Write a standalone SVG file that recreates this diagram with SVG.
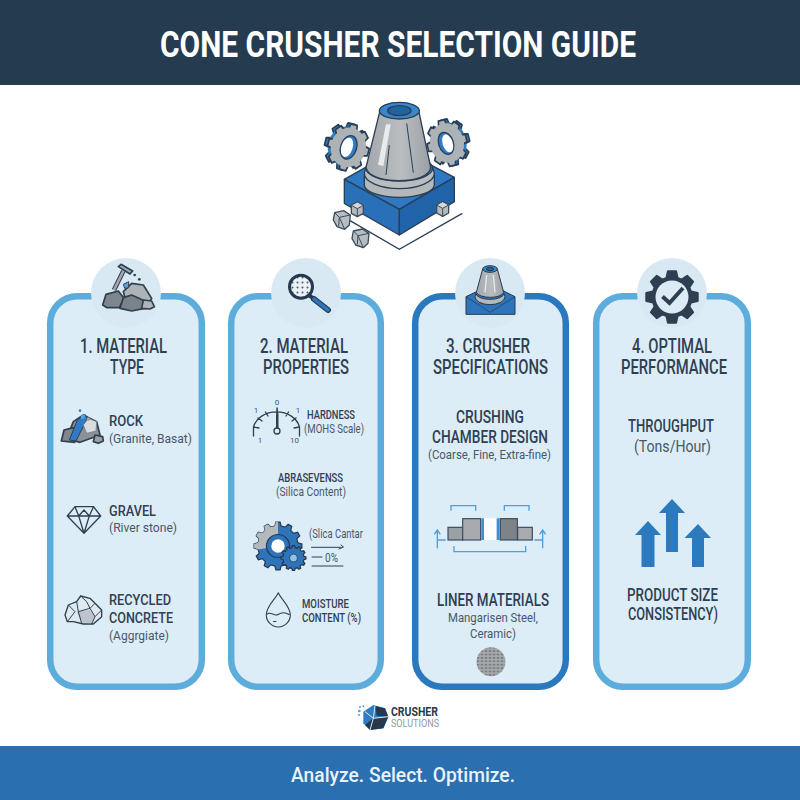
<svg xmlns="http://www.w3.org/2000/svg" width="800" height="800" viewBox="0 0 800 800">
<style>
text{font-family:Roboto,"Liberation Sans",sans-serif;fill:#2f4052}
.h{font-size:19.500px;font-weight:500}
.c{font-size:17.500px;font-weight:500}
.b{font-size:15.500px;font-weight:500}
.m{font-size:13px;font-weight:500}
.n{font-size:13.500px;font-weight:400;fill:#47586a}
.t{font-size:8px;fill:#47586a}
.panel{fill:#ddedf8;stroke:#5cacdc;stroke-width:6.500}
.halo{fill:#d9e9f4}
.ln{fill:none;stroke:#2e3f50;stroke-linecap:round;stroke-linejoin:round}
.rk{stroke:#2e3f50;stroke-width:5;stroke-linejoin:round}
</style>
<defs>
<polygon id="g8" points="36.5,-10.5 49.4,-7.8 49.4,7.8 36.5,10.5 33.2,18.4 40.5,29.4 29.4,40.5 18.4,33.2 10.5,36.5 7.8,49.4 -7.8,49.4 -10.5,36.5 -18.4,33.2 -29.4,40.5 -40.5,29.4 -33.2,18.4 -36.5,10.5 -49.4,7.8 -49.4,-7.8 -36.5,-10.5 -33.2,-18.4 -40.5,-29.4 -29.4,-40.5 -18.4,-33.2 -10.5,-36.5 -7.8,-49.4 7.8,-49.4 10.5,-36.5 18.4,-33.2 29.4,-40.5 40.5,-29.4 33.2,-18.4"/>
<polygon id="g12" points="41.5,-6.6 49.8,-4.4 49.8,4.4 41.5,6.6 39.2,15.1 45.3,21.1 41,28.7 32.6,26.4 26.4,32.6 28.7,41 21.1,45.3 15.1,39.2 6.6,41.5 4.4,49.8 -4.4,49.8 -6.6,41.5 -15.1,39.2 -21.1,45.3 -28.7,41 -26.4,32.6 -32.6,26.4 -41,28.7 -45.3,21.1 -39.2,15.1 -41.5,6.6 -49.8,4.4 -49.8,-4.4 -41.5,-6.6 -39.2,-15.1 -45.3,-21.1 -41,-28.7 -32.6,-26.4 -26.4,-32.6 -28.7,-41 -21.1,-45.3 -15.1,-39.2 -6.6,-41.5 -4.4,-49.8 4.4,-49.8 6.6,-41.5 15.1,-39.2 21.1,-45.3 28.7,-41 26.4,-32.6 32.6,-26.4 41,-28.7 45.3,-21.1 39.2,-15.1"/>
<clipPath id="gclip"><use href="#g12"/></clipPath>
<g id="cube"><polygon points="-18,-12 0,-22 18,-12 18,12 0,22 -18,12" fill="#b4b9bd" stroke="#3a4b5c" stroke-width="4" stroke-linejoin="round"/><polygon points="-18,-12 0,-22 18,-12 0,-2" fill="#d5d8da" stroke="#3a4b5c" stroke-width="3"/><path d="M0 -2V22" stroke="#3a4b5c" stroke-width="3"/></g>
<g id="nug"><polygon points="-22,-22 5,-28 25,-15 22,15 8,28 -15,20 -26,0" fill="#b8bdc1" stroke="#3a4b5c" stroke-width="4" stroke-linejoin="round"/><path d="M-22 -22 -8 -8 25 -15M-8 -8 -10 18M-8 -8 8 28" fill="none" stroke="#3a4b5c" stroke-width="3"/></g>
<pattern id="dots" width="5" height="5" patternUnits="userSpaceOnUse"><circle cx="2.500" cy="2.500" r="1" fill="#4a5a6a"/></pattern>
<pattern id="mesh" width="4" height="3.400" patternUnits="userSpaceOnUse"><rect width="4" height="3.400" fill="#a6a9ac"/><ellipse cx="2" cy="1.700" rx="1.500" ry=".8" fill="#74787c"/></pattern>
<linearGradient id="cone" x1="0" x2="1" y1="0" y2="0"><stop offset="0" stop-color="#a3a8ac"/><stop offset=".55" stop-color="#b9bdc0"/><stop offset="1" stop-color="#9ba0a5"/></linearGradient>
</defs>
<rect width="800" height="800" fill="#fff"/>
<g id="header"><rect width="800" height="85" fill="#253b50"/>
<text x="160" y="57" font-size="36.500" font-weight="700" textLength="476" lengthAdjust="spacingAndGlyphs" style="fill:#fff">CONE CRUSHER SELECTION GUIDE</text></g>

<g id="hero" transform="translate(300 90) scale(.33333)">
<g stroke="#2a3f55" stroke-width="4" stroke-linejoin="round">
<g transform="translate(137 169) rotate(14) scale(1.27 1.42)" fill="#2f7cc4"><use href="#g8"/><circle r="42" stroke="none"/></g>
<g transform="translate(145 172) rotate(14) scale(1.25 1.42)" fill="#adb2b6"><use href="#g8"/><circle r="42" stroke="none"/></g>
<ellipse cx="146" cy="172" rx="24" ry="36" transform="rotate(18 146 172)" fill="#2f7cc4"/>
<ellipse cx="141" cy="172" rx="17" ry="30" transform="rotate(18 141 172)" fill="#fff" stroke="none"/>
<g transform="translate(449 157) rotate(-14) scale(1.2 1.42)" fill="#2f7cc4"><use href="#g8"/><circle r="42" stroke="none"/></g>
<g transform="translate(441 159) rotate(-14) scale(1.2 1.42)" fill="#adb2b6"><use href="#g8"/><circle r="42" stroke="none"/></g>
<ellipse cx="438" cy="160" rx="22" ry="34" transform="rotate(-18 438 160)" fill="#2f7cc4"/>
<ellipse cx="443" cy="160" rx="15" ry="28" transform="rotate(-18 443 160)" fill="#fff" stroke="none"/>
<polygon points="133,268 298,175 463,262 298,358" fill="#2e78c4"/>
<polygon points="133,268 298,358 298,435 133,340" fill="#2a70b8"/>
<polygon points="298,358 463,262 463,335 298,435" fill="#2063a8"/>
<path d="M193 255V285C193 305 240 322 298 322S403 305 403 285V255Z" fill="#b3b8bb"/>
<ellipse cx="298" cy="250" rx="105" ry="46" fill="#b9bdc0"/>
<ellipse cx="298" cy="235" rx="100" ry="38" fill="#2f7cc4"/>
<path d="M240 62 198 232C205 285 390 285 392 232L356 62Z" fill="url(#cone)"/>
<polygon points="258,103 272,103 250,228 234,224" fill="#e8ebec" stroke="none"/>
<path d="M320 100 340 248M268 165 258 255" fill="none" stroke-width="3"/>
<ellipse cx="298" cy="62" rx="60" ry="25" fill="#3a86cc"/>
<ellipse cx="298" cy="62" rx="35" ry="15" fill="#1f639f"/>
</g>
<path d="M150 392 298 478 487 370" fill="none" stroke="#2a3f55" stroke-width="4"/>
<use href="#cube" x="172" y="358"/><use href="#cube" x="428" y="357"/>
<use href="#nug" x="126" y="390"/><use href="#nug" x="182" y="445"/>
</g>

<g id="step-1">
<rect class="panel" x="50.200" y="296.200" width="151.600" height="390.600" rx="27"/>
<circle class="halo" cx="126" cy="293" r="35"/>
<g transform="translate(40 255) scale(.33333)">
<path d="M222 105 250 48" stroke="#2e3f50" stroke-width="14"/><path d="M222 105 250 48" stroke="#a2a8ad" stroke-width="8"/>
<polygon points="235,35 243,28 278,48 270,57" fill="#a2a8ad" stroke="#2e3f50" stroke-width="5" stroke-linejoin="round"/>
<circle cx="284" cy="60" r="4" fill="#2e3f50"/><circle cx="298" cy="73" r="4" fill="#2e3f50"/>
<polygon class="rk" points="250,110 275,85 310,90 335,130 320,160 260,150" fill="#aeb3b7"/>
<polygon points="250,88 266,80 266,98 254,100" fill="#5aa0dc" stroke="#2e3f50" stroke-width="3"/>
<polygon class="rk" points="188,150 198,118 235,108 252,130 238,158 200,158" fill="#7f868d"/>
<polygon class="rk" points="240,160 250,128 275,120 308,135 315,160 275,168" fill="#7a828a"/>
<polygon class="rk" points="305,160 310,135 335,138 343,155 330,162" fill="#b0b5b9"/>
</g>
<text class="h" x="80" y="353" textLength="87" lengthAdjust="spacingAndGlyphs">1. MATERIAL</text>
<text class="h" x="110" y="374" textLength="34" lengthAdjust="spacingAndGlyphs">TYPE</text>
<g transform="translate(40 255) scale(.33333)">
<polygon class="rk" points="100,500 130,480 170,500 180,540 120,562 80,550" fill="#8b9197" stroke-width="4"/>
<polygon class="rk" points="64,558 72,525 100,518 112,540 104,562" fill="#7f868d" stroke-width="4"/>
<polygon class="rk" points="160,560 165,540 188,545 190,558 175,565" fill="#9aa0a5" stroke-width="4"/>
<polygon points="112,495 135,478 142,490 108,558 88,555" fill="#2f7cc4" stroke="#2e3f50" stroke-width="3"/>
<polygon points="130,510 145,490 170,500 168,528 140,535" fill="#d8dcdf" stroke="#6a7782" stroke-width="2"/>
<circle cx="120" cy="467" r="4" fill="#3f7fb8"/><circle cx="145" cy="492" r="5" fill="#9aa0a5"/>
<polygon points="122,482 135,478 133,490 124,492" fill="#5aa9e0"/>
</g>
<text class="b" x="109" y="426" textLength="34" lengthAdjust="spacingAndGlyphs">ROCK</text>
<text class="n" x="109" y="443" textLength="83" lengthAdjust="spacingAndGlyphs">(Granite, Basat)</text>
<path class="ln" stroke-width="1.300" d="M75 506.700H93.500L100.700 516 84 533.300 67.300 516ZM67.300 516H100.700M75 506.700 78.700 516 84 533.300 89.300 516 93.500 506.700M78.700 516 84 510 89.300 516"/>
<text class="b" x="109" y="516" textLength="47" lengthAdjust="spacingAndGlyphs">GRAVEL</text>
<text class="n" x="109" y="532" textLength="68" lengthAdjust="spacingAndGlyphs">(River stone)</text>
<g transform="translate(40 470) scale(.33333)">
<path d="M75 435 85 405 110 395 122 378 150 385 165 400 185 420 185 440 160 462 130 462 100 455 82 455Z" fill="#dfe9f0" stroke="#2e3f50" stroke-width="4" stroke-linejoin="round"/>
<path d="M110 425 150 420 165 440 155 460 125 458Z" fill="#bcc5cc"/>
<path d="M85 405 105 425 82 455M110 395 115 425 150 415 165 400M122 378 140 395 150 415 165 440 155 462M115 425 125 460M185 420 165 440" fill="none" stroke="#2e3f50" stroke-width="3"/>
</g>
<text class="b" x="109" y="605" textLength="62" lengthAdjust="spacingAndGlyphs">RECYCLED</text>
<text class="b" x="109" y="623" textLength="64" lengthAdjust="spacingAndGlyphs">CONCRETE</text>
<text class="n" x="109" y="640" textLength="60" lengthAdjust="spacingAndGlyphs">(Aggrgiate)</text>
</g>

<g id="step-2">
<rect class="panel" x="231.200" y="296.200" width="149.600" height="390.600" rx="27"/>
<circle class="halo" cx="306" cy="293" r="35"/>
<circle cx="301" cy="286.700" r="11.500" fill="#e9f1f7"/><circle cx="301" cy="286.700" r="11.500" fill="url(#dots)" stroke="#26394c" stroke-width="3"/>
<path d="M309.500 295.500 315 300" stroke="#26394c" stroke-width="4"/><path d="M314 299 328 310" stroke="#26394c" stroke-width="6" stroke-linecap="round"/><path d="M314 299 328 310" stroke="#2d74bb" stroke-width="3.600" stroke-linecap="round"/>
<text class="h" x="260" y="353" textLength="88" lengthAdjust="spacingAndGlyphs">2. MATERIAL</text>
<text class="h" x="263" y="374" textLength="86" lengthAdjust="spacingAndGlyphs">PROPERTIES</text>
<g id="gauge">
<path class="ln" stroke-width="1.300" d="M253.500 436V427A23.500 19 0 0 1 299.500 427V436M253.500 427 259 428M258 418 262 421M265.500 412 268 416M277 408V413M288.500 412 286 416M296 418 292 421M299.500 427 294 428"/>
<polygon points="276,415 277.500,407 278.500,415 278.500,429 276,429" fill="#2e3f50"/>
<circle cx="277" cy="431" r="3" fill="#ddecf7" stroke="#2e3f50" stroke-width="1.300"/>
<text class="t" x="277" y="405" text-anchor="middle">0</text><text class="t" x="256" y="413" text-anchor="middle">1</text><text class="t" x="298" y="413" text-anchor="middle">1</text><text class="t" x="260" y="443" text-anchor="middle">1</text><text class="t" x="294.500" y="443" text-anchor="middle">10</text>
</g>
<text class="m" x="307" y="419" textLength="48" lengthAdjust="spacingAndGlyphs">HARDNESS</text>
<text class="n" x="304" y="433" textLength="60" lengthAdjust="spacingAndGlyphs">(MOHS Scale)</text>
<text class="m" x="278" y="482" textLength="65" lengthAdjust="spacingAndGlyphs">ABRASEVENSS</text>
<text class="n" x="276" y="496" textLength="70" lengthAdjust="spacingAndGlyphs">(Silica Content)</text>
<g transform="translate(278 546) scale(.48)" stroke="#26394c" stroke-width="2.500">
<use href="#g12" fill="#2d74bb"/>
<g clip-path="url(#gclip)"><path d="M0 0V-55H-55V10Z" fill="#b4b9bd" stroke="none"/></g>
<circle r="24" fill="#2d74bb"/><circle r="14" fill="#fff" stroke="none"/>
</g>
<use href="#g12" transform="translate(293.500 558) scale(.25)" fill="#2d74bb" stroke="#26394c" stroke-width="5"/>
<circle cx="293.500" cy="558" r="4" fill="#8fc4ea" stroke="#26394c" stroke-width=".8"/>
<text class="n" x="309" y="538" textLength="54" lengthAdjust="spacingAndGlyphs">(Slica Cantar</text>
<path class="ln" stroke-width="1" d="M311.500 547.300H341M341 545 343.500 547 339 549M312 557H322M312 566H343"/>
<text class="n" x="325" y="562" style="font-size:12px" textLength="13" lengthAdjust="spacingAndGlyphs">0%</text>
<path class="ln" stroke-width="1.100" d="M278.300 592.700C275 600 266.300 606 266.300 615A12 12 0 0 0 290.300 615C290.300 606 281.500 600 278.300 592.700ZM267.500 614C271 611 274 617 278 614.500S285 612 289 614.500M273.500 621.500H276"/>
<text class="m" x="302" y="608" textLength="47" lengthAdjust="spacingAndGlyphs">MOISTURE</text>
<text class="m" x="302" y="622" textLength="59" lengthAdjust="spacingAndGlyphs">CONTENT (%)</text>
</g>

<g id="step-3">
<rect class="panel" style="stroke:#2a78bd" x="415.200" y="296.200" width="150.600" height="390.600" rx="27"/>
<circle class="halo" cx="490" cy="293" r="35"/>
<g transform="translate(405 255) scale(.33333)" stroke="#26394c" stroke-width="3" stroke-linejoin="round">
<polygon points="183,125 225,105 290,105 330,125 330,178 183,178" fill="#2d74bb"/>
<path d="M183 125 255 172 330 125" fill="none" stroke-width="2"/>
<ellipse cx="255" cy="125" rx="45" ry="24" fill="#b3b8bb"/>
<ellipse cx="255" cy="115" rx="42" ry="18" fill="#2f7cc4"/>
<path d="M233 42 214 112C222 132 290 132 296 112L277 42Z" fill="url(#cone)"/>
<path d="M245 60 240 112M265 60 270 112" stroke="#e7eaec" stroke-width="4"/>
<ellipse cx="255" cy="42" rx="22" ry="10" fill="#3a86cc"/><ellipse cx="255" cy="42" rx="11" ry="5" fill="#1f639f"/>
</g>
<text class="h" x="446" y="353" textLength="84" lengthAdjust="spacingAndGlyphs">3. CRUSHER</text>
<text class="h" x="433" y="374" textLength="115" lengthAdjust="spacingAndGlyphs">SPECIFICATIONS</text>
<text class="c" x="456" y="423" textLength="68" lengthAdjust="spacingAndGlyphs">CRUSHING</text>
<text class="c" x="432" y="443" textLength="116" lengthAdjust="spacingAndGlyphs">CHAMBER DESIGN</text>
<text class="n" x="428" y="459" textLength="123" lengthAdjust="spacingAndGlyphs">(Coarse, Fine, Extra-fine)</text>
<g transform="translate(405 475) scale(.33333)">
<g stroke="#3a4b5c" stroke-width="3.500">
<rect x="129" y="157" width="45" height="38" fill="#9ba0a5"/>
<rect x="173" y="131" width="54" height="64" fill="#a7abaf"/>
<rect x="286" y="131" width="51" height="64" fill="#7e8388"/>
<rect x="338" y="157" width="44" height="38" fill="#a8acb0"/>
</g>
<rect x="229" y="130" width="8" height="65" fill="#3f8fd2"/><rect x="237" y="130" width="38" height="65" fill="#fff"/><rect x="275" y="130" width="9" height="65" fill="#3f8fd2"/>
<path d="M138 107V92H212V107M298 107V92H372V107M147 213V230H362V213M97 220V165M88 178 97 165 106 178M97 195H122M413 220V165M404 178 413 165 422 178M388 195H413" fill="none" stroke="#4f9ede" stroke-width="4"/>
</g>
<text class="c" x="437" y="606" textLength="112" lengthAdjust="spacingAndGlyphs">LINER MATERIALS</text>
<text class="n" x="448" y="622" textLength="90" lengthAdjust="spacingAndGlyphs">Mangarisen Steel,</text>
<text class="n" x="470" y="638" textLength="46" lengthAdjust="spacingAndGlyphs">Ceramic)</text>
<circle cx="491" cy="661.700" r="14.500" fill="url(#mesh)"/>
</g>

<g id="step-4">
<rect class="panel" x="596.200" y="296.200" width="151.600" height="390.600" rx="27"/>
<circle class="halo" cx="672" cy="293" r="35"/>
<use href="#g8" transform="translate(672 297) scale(.52)" fill="#2d3f50" stroke="#2d3f50" stroke-width="4" stroke-linejoin="round"/>
<circle cx="672" cy="297" r="16.500" fill="#dcebf5"/>
<path d="M662.500 296.500 669.500 303 683 288" fill="none" stroke="#2d3f50" stroke-width="4"/>
<text class="h" x="632" y="353" textLength="80" lengthAdjust="spacingAndGlyphs">4. OPTIMAL</text>
<text class="h" x="621" y="374" textLength="106" lengthAdjust="spacingAndGlyphs">PERFORMANCE</text>
<text class="c" x="628" y="432" textLength="86" lengthAdjust="spacingAndGlyphs">THROUGHPUT</text>
<text class="n" x="634" y="452" textLength="77" lengthAdjust="spacingAndGlyphs" style="font-size:16px">(Tons/Hour)</text>
<g fill="#2c7abe">
<polygon points="648,521 661,535 654.500,535 654.500,567 641.500,567 641.500,535 635,535"/>
<polygon points="672,499 685,513 678,513 678,552 666,552 666,513 659,513"/>
<polygon points="698,524 711,538 704,538 704,567 692,567 692,538 684.500,538"/>
</g>
<text class="c" x="627" y="601" textLength="91" lengthAdjust="spacingAndGlyphs">PRODUCT SIZE</text>
<text class="c" x="628" y="620" textLength="90" lengthAdjust="spacingAndGlyphs">CONSISTENCY)</text>
</g>

<g id="logo">
<g transform="translate(330 695) scale(.33333)">
<polygon points="130,30 165,40 175,65 160,100 120,105 100,85 100,50" fill="#2f7cc4"/>
<polygon points="130,70 175,65 160,100 120,105 105,90" fill="#26394c"/>
<polygon points="135,33 165,40 175,65 140,62" fill="#26394c"/>
<path d="M105 50 130 70 135 33M130 70 120 105M130 70 175 65" stroke="#dcebf5" stroke-width="3" fill="none"/>
<circle cx="90" cy="36" r="3" fill="#4f9ede"/><circle cx="100" cy="34" r="3" fill="#4f9ede"/><circle cx="88" cy="48" r="4" fill="#4f9ede"/><circle cx="87" cy="60" r="3" fill="#4f9ede"/>
</g>
<text x="391" y="716" font-size="12" font-weight="700" textLength="47" lengthAdjust="spacingAndGlyphs" style="fill:#26394c">CRUSHER</text>
<text x="391" y="727" font-size="10" font-weight="400" textLength="48" lengthAdjust="spacingAndGlyphs" style="fill:#8d99a5">SOLUTIONS</text>
</g>

<g id="footer"><rect y="746" width="800" height="54" fill="#2a6fb0"/>
<text x="291" y="782" font-size="20" font-weight="500" textLength="224" lengthAdjust="spacingAndGlyphs" style="fill:#e8f2f9">Analyze. Select. Optimize.</text></g>
</svg>
